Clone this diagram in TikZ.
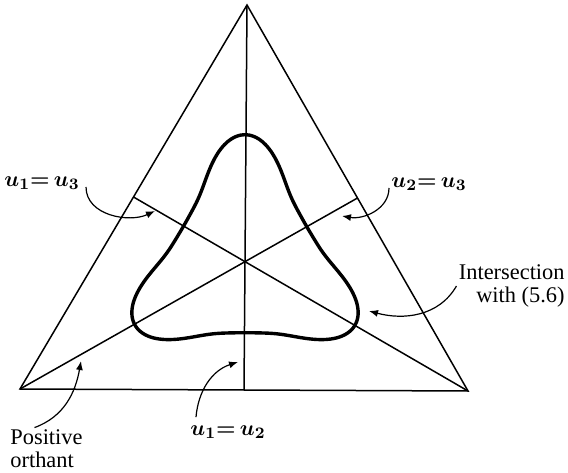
\documentclass[tikz,border=0pt]{standalone}
\usepackage{fontspec}
\newfontfamily\labelfont{Liberation Serif}
\usetikzlibrary{arrows.meta,calc}

\begin{document}
\begin{tikzpicture}[x=0.5pt,y=0.5pt,
  declare function={lobe(\t)=(1+cos(3*\t))/2;
    loopr(\t)=71+56*(0.33*lobe(\t)+0.01*lobe(\t)^2+0.66*lobe(\t)^3);},
  edge/.style={line width=0.75pt},
  loop/.style={line width=1.7pt,line join=round},
  pointer/.style={line width=0.6pt,-{Latex[length=4.5pt,width=3.5pt]}},
  lbl/.style={inner sep=1pt,font=\labelfont\fontsize{11.2}{11.5}\selectfont},
  eq/.style={inner sep=1pt,font=\fontsize{11}{12}\selectfont\boldmath}]
  \useasboundingbox (0,0) rectangle (568,472);
  \coordinate (top) at (247,467);
  \coordinate (left) at (20,83);
  \coordinate (right) at (468,81);
  \coordinate (mid) at (245,210.3);
  \draw[edge] (top)--(left)--(right)--cycle;
  \draw[edge] (top)--($(left)!.5!(right)$);
  \draw[edge] (left)--($(top)!.5!(right)$);
  \draw[edge] (right)--($(top)!.5!(left)$);
  \draw[loop,shift={(mid)}] plot[domain=0:360,samples=181,variable=\t,smooth]
    ({loopr(\t)*sin(\t)},{loopr(\t)*cos(\t)}) -- cycle;

  \node[eq] (l13) at (42,289) {$u_1{=}\,u_3$};
  \node[eq] (l23) at (429,288) {$u_2{=}\,u_3$};
  \node[eq] (l12) at (228,40) {$u_1{=}\,u_2$};
  \node[lbl,align=right,anchor=east] (lint) at (567,186) {Intersection\\with (5.6)};
  \node[lbl,align=left,anchor=west] (lpos) at (8,23) {Positive\\orthant};

  \coordinate (t13) at (155,261);
  \coordinate (t23) at (342,256);
  \coordinate (tint) at (369,161);
  \coordinate (t12) at (238,110);
  \coordinate (tpos) at (81,111);
  \draw[pointer] ([xshift=2pt,yshift=-2pt]l13.east) to[out=-90,in=205] (t13);
  \draw[pointer] ([yshift=-2pt]l23.west) to[out=-90,in=-10] (t23);
  \draw[pointer] (lint.west) to[out=240,in=-15] (tint);
  \draw[pointer] ([xshift=4pt,yshift=3pt]l12.north west) to[out=85,in=198] (t12);
  \draw[pointer] ([xshift=-6pt]lpos.north) to[out=20,in=-100] (tpos);
\end{tikzpicture}
\end{document}
